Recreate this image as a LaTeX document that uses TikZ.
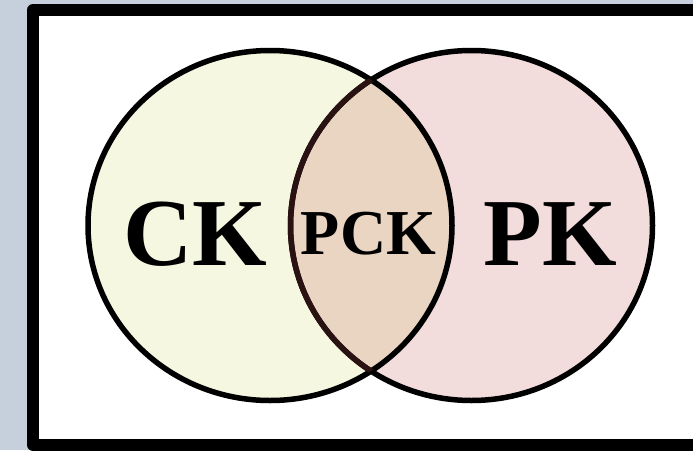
\documentclass[tikz,border=0pt]{standalone}
\usepackage{fontspec}
\setmainfont{Liberation Serif}
\definecolor{bgc}{HTML}{C5D0DC}
\definecolor{ckfill}{HTML}{F5F7E1}
\definecolor{pkfill}{HTML}{F2DCDC}
\definecolor{pckfill}{HTML}{EAD5C2}
\definecolor{darkarc}{HTML}{2A1212}
\tikzset{
  setborder/.style={line width=5.5pt},
  biglabel/.style={font=\bfseries\fontsize{96}{96}\selectfont, inner sep=0pt},
  midlabel/.style={font=\bfseries\fontsize{64}{64}\selectfont, inner sep=0pt}
}
\begin{document}
\begin{tikzpicture}[x=1pt,y=-1pt]
\useasboundingbox (0,0) rectangle (693,450);
\fill[bgc] (0,0) rectangle (693,450);
\draw[line width=12pt, line join=round, fill=white] (33,10) rectangle (710,445);
\def\ck{(270,225.5) ellipse [x radius=182, y radius=175]}
\def\pk{(471.5,225.5) ellipse [x radius=181, y radius=175]}
\fill[ckfill] \ck;
\fill[pkfill] \pk;
\begin{scope}
  \clip \ck;
  \fill[pckfill] \pk;
\end{scope}
\draw[setborder] \ck;
\draw[setborder] \pk;
\begin{scope}
  \clip \ck;
  \draw[setborder, darkarc] \pk;
\end{scope}
\node[biglabel] (ck) at (195,234.5) {CK};
\node[biglabel] (pk) at (550,234.5) {PK};
\node[midlabel] (pck) at (368.5,233.5) {PCK};
\end{tikzpicture}
\end{document}
